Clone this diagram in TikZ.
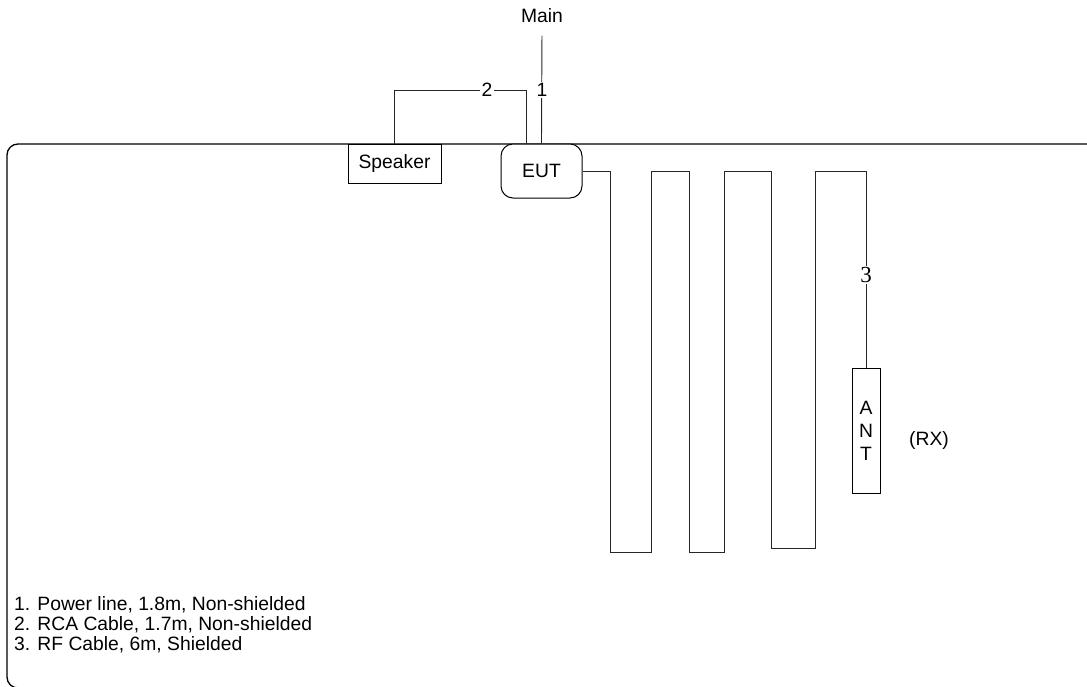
\documentclass[tikz,border=0pt]{standalone}
\usepackage{fontspec}
\setmainfont{Liberation Sans}
\newfontfamily\numserif{Liberation Serif}
\begin{document}
\begin{tikzpicture}[x=1pt,y=-1pt,
  every node/.style={font=\fontsize{19.3}{22}\selectfont, text=black},
  cable/.style={line width=0.9pt, black!85},
  unit/.style={draw, line width=1pt, fill=white, inner sep=0pt},
  tag/.style={fill=white, inner sep=1.5pt},
]
\useasboundingbox (0,0) rectangle (1087,686);
% test area outline
\begin{scope}
  \clip (0,0) rectangle (1087,686);
  \draw[line width=1.3pt, rounded corners=11pt] (7,144) rectangle (1110,688);
\end{scope}

% equipment
\node[unit, minimum width=93pt, minimum height=39pt] (spk) at (394.5,163.5) {Speaker};
\node[unit, rounded corners=12pt, minimum width=81pt, minimum height=54pt] (eut) at (541.5,171) {EUT};
\node[unit, minimum width=28pt, minimum height=125pt, align=center,
      font=\fontsize{19.3}{23}\selectfont] (ant) at (866,430.5) {A\\N\\T};
\node (main) at (542,16) {Main};
\node (rx) at (929,440) {(RX)};

% cable 1: power line
\draw[cable, shorten <=9pt] (main.south) -- (eut.north);
\node[tag] (t1) at (542,90) {1};

% cable 2: RCA cable
\draw[cable] (spk.north) |- (526,90) coordinate (c2) -- (c2 |- eut.north);
\node[tag] (t2) at (487,90) {2};

% cable 3: RF cable, folded
\draw[cable] (eut.east) -| (610,552) -| (651,171) -| (689,552) -| (724,171)
  -| (771,548) -| (815,171) -| (ant.north);
\node[tag, font=\numserif\fontsize{23}{26}\selectfont] (t3) at (866,275) {3};

% legend
\node[anchor=base west, inner sep=0pt] (l1) at (14,610) {1. Power line, 1.8m, Non-shielded};
\node[anchor=base west, inner sep=0pt] (l2) at (14,630) {2. RCA Cable, 1.7m, Non-shielded};
\node[anchor=base west, inner sep=0pt] (l3) at (14,650) {3. RF Cable, 6m, Shielded};
\end{tikzpicture}
\end{document}
